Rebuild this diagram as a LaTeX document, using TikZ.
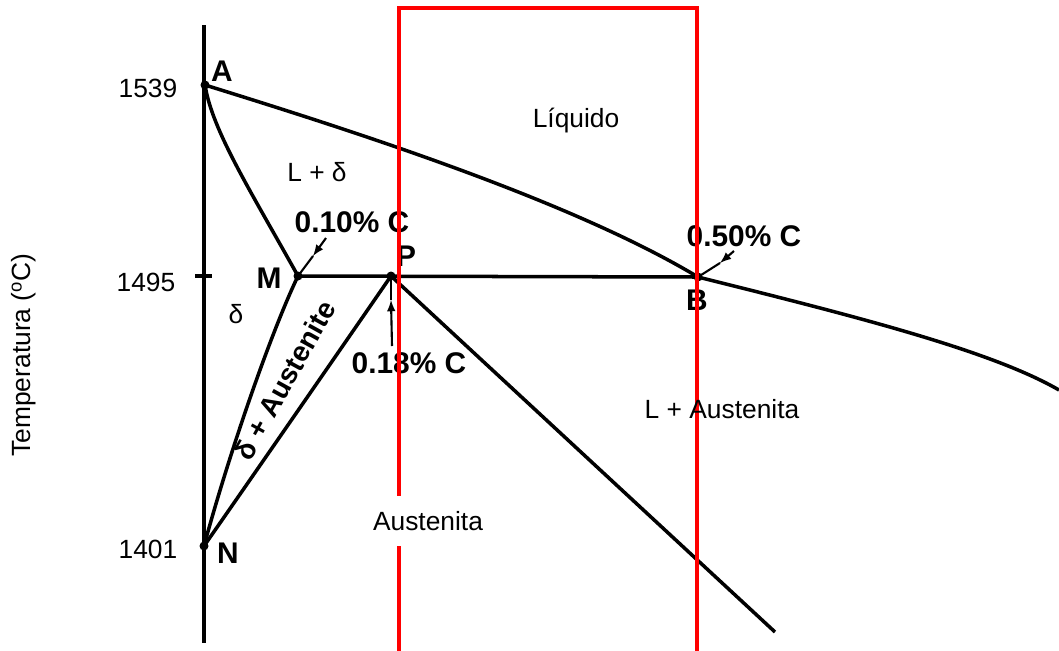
\documentclass[tikz,border=0pt]{standalone}
\usepackage{fontspec}
\setmainfont{Liberation Sans}

\tikzset{
    linha/.style={line width=2pt, black},
    seta/.style={line width=1.2pt, black},
    rotulo/.style={font=\fontsize{15}{18}\selectfont, inner sep=1pt},
    letra/.style={font=\fontsize{17}{20}\selectfont\bfseries, inner sep=1pt},
    moldura/.style={draw=red, line width=2.3pt},
}

\begin{document}
\begin{tikzpicture}[x=0.02cm, y=-0.02cm]
    \useasboundingbox (0,0) rectangle (1059,650);

    % --- 相图的点 ---
    \coordinate (A) at (205,85);
    \coordinate (M) at (298,276);
    \coordinate (P) at (391,276);
    \coordinate (B) at (698,277);
    \coordinate (N) at (204,546);
    \coordinate (eixoTopo) at (204,25);
    \coordinate (eixoBase) at (204,643);
    \coordinate (tickE) at (195,276);
    \coordinate (tickD) at (212,276);
    \coordinate (fimLiq) at (1059,390);
    \coordinate (fimAus) at (775,632);

    % 温度轴
    \draw[linha] (eixoTopo) -- (eixoBase);
    \draw[linha] (tickE) -- (tickD);

    % --- 各条线 ---
    \draw[linha] (A) .. controls (350,130) and (570,200) .. (B);
    \draw[linha] (B) .. controls (850,315) and (990,350) .. (fimLiq);
    \draw[linha] (A) .. controls (212,130) and (250,190) .. (M);
    \draw[linha] (M) -- (B);
    \draw[linha] (M) .. controls (272,330) and (230,450) .. (N);
    \draw[linha] (N) .. controls (250,480) and (340,350) .. (P);
    \draw[linha] (P) -- (fimAus);
    \foreach \p in {A,M,P,B,N}
        \fill[black] (\p) circle (4.5);

    % 字母
    \node[letra] (lA) at (222,71) {A};
    \node[letra] (lM) at (269,278) {M};
    \node[letra] (lN) at (228,553) {N};
    \node[letra] (lB) at (697,300) {B};
    \node[letra] (lP) at (406,256) {P};

    % --- 含碳量标注 ---
    \node[letra] (c10) at (352,222) {0.10\% C};
    \node[letra] (c18) at (409,363) {0.18\% C};
    \node[letra] (c50) at (744,236) {0.50\% C};
    \coordinate (t10) at (326,238);
    \coordinate (h10) at (313,256);
    \coordinate (t18) at (392,346);
    \coordinate (h18) at (391,300);
    \coordinate (t50) at (734,251);
    \coordinate (h50) at (720,263);
    \draw[seta,-latex] (t10) -- (h10);
    \draw[seta] (h10) -- (M);
    \draw[seta,-latex] (t18) -- (h18);
    \draw[seta] (h18) -- (P);
    \draw[seta,-latex] (t50) -- (h50);
    \draw[seta] (h50) -- (B);

    \node[letra, font=\fontsize{16}{19}\selectfont\bfseries, rotate=61] (dAus) at (285,380) {δ + Austenite};

    % 红框
    \draw[moldura] (399,652) -- (399,8) -- (697,8) -- (697,652);

    % --- 区域名称 ---
    \node[rotulo] (liq) at (576,121) {Líquido};
    \node[rotulo] (Ld) at (317,172) {L + δ};
    \node[rotulo] (d) at (236,314) {δ};
    \node[rotulo] (LAus) at (722,409) {L + Austenita};
    \node[rotulo, fill=white, inner xsep=6pt, inner ysep=9pt] (Aus) at (428,521) {Austenita};

    % 温度
    \node[rotulo] (t1539) at (148,88) {1539};
    \node[rotulo] (t1495) at (146,282) {1495};
    \node[rotulo] (t1401) at (148,549) {1401};
    \node[rotulo, rotate=90] (temp) at (24,355) {Temperatura (\textsuperscript{o}C)};
\end{tikzpicture}
\end{document}
